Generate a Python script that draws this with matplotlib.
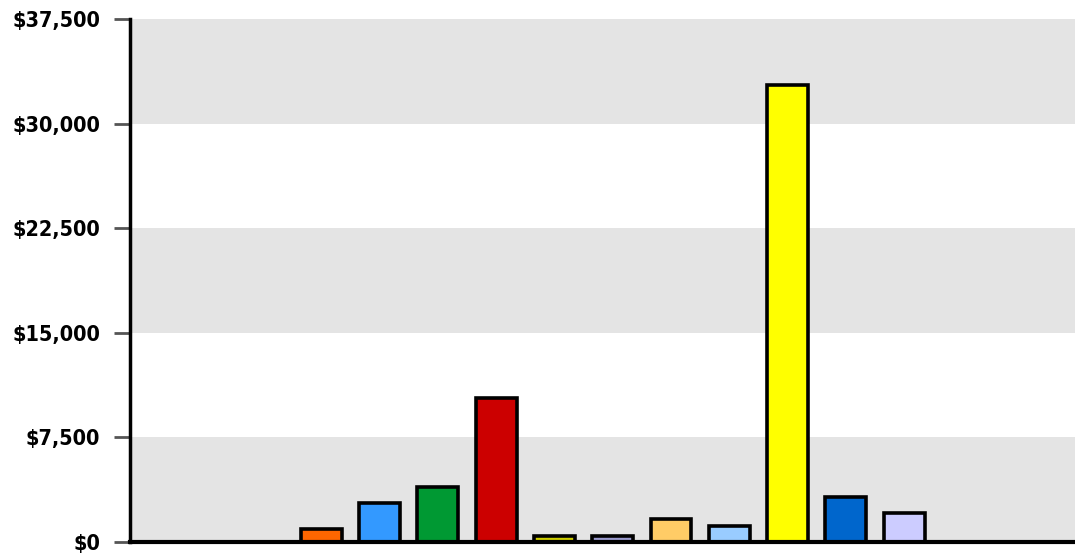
import matplotlib.pyplot as plt
import numpy as np
from matplotlib.ticker import FuncFormatter

# bar values (dollars)
values = [950, 2800, 3950, 10300, 450, 450, 1650, 1180, 32750, 3250, 2100]
colors = ["#FF6600", "#3399FF", "#009933", "#CC0000", "#CCCC00", "#9999CC",
          "#FFCC66", "#99CCFF", "#FFFF00", "#0066CC", "#CCCCFF"]
yticks = [0, 7500, 15000, 22500, 30000, 37500]

plt.rcParams['font.family'] = ['DejaVu Sans']
plt.rcParams['font.stretch'] = 'condensed'

fig = plt.figure(figsize=(10.75, 5.56), dpi=100)
ax = fig.add_axes([130 / 1075, 1 - 542 / 556, 1 - 130 / 1075, (542 - 19) / 556])

# alternating background bands
for i in range(len(yticks) - 1):
    if i % 2 == 0:
        ax.axhspan(yticks[i], yticks[i + 1], color="#E4E4E4", zorder=0, lw=0)

x = np.arange(len(values))
ax.bar(x, values, width=0.7, color=colors, edgecolor="black", linewidth=2.6, zorder=3)

ax.set_xlim(-3.28, 12.93)
ax.set_ylim(0, 37500)
ax.set_yticks(yticks)
ax.yaxis.set_major_formatter(FuncFormatter(lambda v, p: "${:,.0f}".format(v)))
ax.set_xticks([])

for lab in ax.get_yticklabels():
    lab.set_fontweight("bold")
    lab.set_fontsize(15.5)
    lab.set_fontstretch("condensed")
ax.tick_params(axis="y", length=11.5, width=2, color="#555555", pad=10, labelcolor="black")

for s in ["top", "right"]:
    ax.spines[s].set_visible(False)
ax.spines["left"].set_linewidth(2.5)
ax.spines["bottom"].set_linewidth(3)
ax.spines["bottom"].set_zorder(5)
ax.spines["left"].set_zorder(5)

fig.savefig("out.png", dpi=100)
